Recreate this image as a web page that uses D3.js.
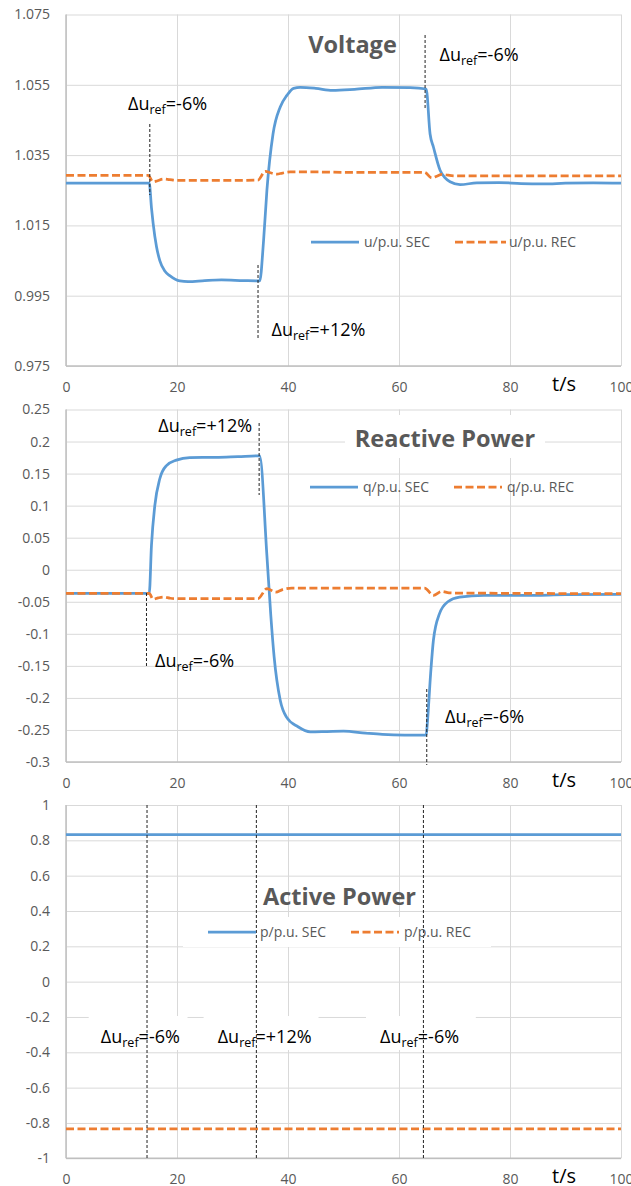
<!DOCTYPE html>
<html>
<head>
<meta charset="utf-8">
<script src="https://cdn.jsdelivr.net/npm/d3@7/dist/d3.min.js"></script>
<style>
body{margin:0;background:#fff;}
svg{display:block;font-family:"Open Sans",sans-serif;}
</style>
</head>
<body>
<div id="chart"></div>
<script>
// ---- data ----
var xTicks=[0,20,40,60,80,100];

var uTicks=[0.975,0.995,1.015,1.035,1.055,1.075];
var uTickLabels=["0.975","0.995","1.015","1.035","1.055","1.075"];
var qTicks=[-0.3,-0.25,-0.2,-0.15,-0.1,-0.05,0,0.05,0.1,0.15,0.2,0.25];
var qTickLabels=["-0.3","-0.25","-0.2","-0.15","-0.1","-0.05","0","0.05","0.1","0.15","0.2","0.25"];
var pTicks=[-1,-0.8,-0.6,-0.4,-0.2,0,0.2,0.4,0.6,0.8,1];
var pTickLabels=["-1","-0.8","-0.6","-0.4","-0.2","0","0.2","0.4","0.6","0.8","1"];

// voltage
var uSecT=[0,15,15.4,15.7,16.3,16.9,17.8,18.7,20.5,22,25,28,32,34.9,35.6,36.2,37.3,38.6,39.8,41,42.2,45,48,52,57,62,64.9,65.6,66.2,67.4,68.3,69.2,71,74,78,82,86,90,95,100];
var uSec =[1.027,1.027,1.020,1.0156,1.009,1.005,1.002,1.0007,0.9992,0.9990,0.9993,0.9995,0.9993,0.9992,1.0107,1.025,1.041,1.0487,1.052,1.054,1.0543,1.0540,1.0534,1.0537,1.0543,1.0542,1.0538,1.041,1.0373,1.0307,1.0285,1.0274,1.0266,1.0271,1.0272,1.0269,1.0268,1.0270,1.0271,1.0270];
var uRecT=[0,14.8,15.7,16.5,17.5,18.7,20,25,30,34.6,35.9,37,38,39,40.4,45,50,55,60,64.6,65.9,66.8,67.7,70,80,100];
var uRec =[1.0292,1.0292,1.0274,1.0277,1.0282,1.0280,1.0278,1.0278,1.0278,1.0279,1.0304,1.0299,1.0296,1.0299,1.0302,1.0302,1.0301,1.0301,1.0301,1.0301,1.0285,1.0290,1.0295,1.0291,1.0291,1.0291];

// reactive power
var qSecT=[0,15,15.4,16,16.9,18.1,19.9,22.3,27,31,34.9,36.2,36.9,37.5,38.6,39.7,41.8,44,47,50,54,57,61,64.9,65.1,65.7,66.2,67.3,68.8,70.9,75.3,82.5,90,100];
var qSec =[-0.037,-0.037,0.038,0.100,0.142,0.1625,0.171,0.175,0.1754,0.1765,0.1776,0.022,-0.071,-0.136,-0.2036,-0.2296,-0.245,-0.253,-0.2525,-0.2519,-0.255,-0.257,-0.258,-0.258,-0.240,-0.162,-0.110,-0.0685,-0.050,-0.0427,-0.040,-0.040,-0.039,-0.0385];
var qRecT=[0,15,15.7,16.6,17.6,18.8,20,25,30,34.6,36.2,37.8,39,40.7,45,50,55,60,64.6,66.2,67.7,69,70,80,90,100];
var qRec =[-0.037,-0.037,-0.046,-0.044,-0.0427,-0.0445,-0.045,-0.045,-0.045,-0.045,-0.0296,-0.035,-0.031,-0.0287,-0.0287,-0.0287,-0.0287,-0.0287,-0.0287,-0.040,-0.0338,-0.036,-0.0364,-0.0368,-0.0372,-0.0374];

// active power
var pSecT=[0,100];
var pSec =[0.833,0.833];
var pRecT=[0,100];
var pRec =[-0.833,-0.833];

// step instants marked in each panel
var uMarks=[15.1,34.6,64.7];
var qMarks=[14.5,34.8,65.0];
var pMarks=[14.6,34.3,64.4];
var markLabels=["-6%","+12%","-6%"];
var qMarkLabels=["-6%","+12%","-6%"];

// ---- drawing ----
var W=631,H=1186,L=66,R=621;
var blue="#5b9bd5",orange="#ed7d31";
var svg=d3.select("#chart").append("svg").attr("width",W).attr("height",H);

var x=d3.scaleLinear().domain([0,100]).range([L,R]);

function drawPanel(p){
  var y=d3.scaleLinear().domain([p.ticks[0],p.ticks[p.ticks.length-1]]).range([p.bottom,p.top]);
  var g=svg.append("g");

  var ya=g.append("g").attr("transform","translate("+L+",0)")
    .call(d3.axisLeft(y).tickValues(p.ticks).tickSize(-(R-L)).tickPadding(16)
      .tickFormat(function(d,i){return p.labels[i];}));
  ya.select(".domain").remove();
  ya.attr("font-size",14).attr("font-family","Open Sans, sans-serif");
  ya.selectAll("line").attr("stroke","#d9d9d9");
  ya.selectAll("text").attr("fill","#595959");

  var xa=g.append("g").attr("transform","translate(0,"+p.bottom+")")
    .call(d3.axisBottom(x).tickValues(xTicks).tickSize(-(p.bottom-p.top)).tickPadding(16)
      .tickFormat(d3.format("d")));
  xa.select(".domain").remove();
  xa.attr("font-size",14).attr("font-family","Open Sans, sans-serif");
  xa.selectAll("line").attr("stroke","#d9d9d9");
  xa.selectAll("text").attr("fill","#595959");

  // white boxes behind some texts
  p.boxes.forEach(function(b){
    g.append("rect").attr("x",b[0]).attr("y",b[1]).attr("width",b[2]-b[0]).attr("height",b[3]-b[1]).attr("fill","#fff");
  });

  // axis lines
  g.append("line").attr("x1",L).attr("x2",L).attr("y1",p.top).attr("y2",p.bottom).attr("stroke","#bfbfbf").attr("stroke-width",1.5);
  g.append("line").attr("x1",L).attr("x2",R).attr("y1",p.bottom).attr("y2",p.bottom).attr("stroke","#bfbfbf").attr("stroke-width",1.5);

  var line=d3.line().x(function(d){return x(d[0]);}).y(function(d){return y(d[1]);}).curve(d3.curveMonotoneX);
  g.append("path").datum(d3.zip(p.secT,p.sec)).attr("d",line)
    .attr("fill","none").attr("stroke",blue).attr("stroke-width",2.75).attr("stroke-linejoin","round");
  g.append("path").datum(d3.zip(p.recT,p.rec)).attr("d",line)
    .attr("fill","none").attr("stroke",orange).attr("stroke-width",2.75).attr("stroke-dasharray","8,3.5");

  // step markers
  p.marks.forEach(function(t,i){
    g.append("line").attr("x1",x(t)).attr("x2",x(t)).attr("y1",p.markY[i][0]).attr("y2",p.markY[i][1])
      .attr("stroke","#222").attr("stroke-width",1).attr("stroke-dasharray","3,2");
    var tx=g.append("text").attr("x",p.markText[i][0]).attr("y",p.markText[i][1])
      .attr("font-size",18).attr("fill","#000");
    tx.append("tspan").text("Δu");
    tx.append("tspan").attr("font-size",12.5).attr("dy",4).text("ref");
    tx.append("tspan").attr("dy",-4).text("="+p.markLabels[i]);
  });

  // title
  g.append("text").attr("x",p.title[1]).attr("y",p.title[2]).attr("text-anchor","middle")
    .attr("font-size",23.5).attr("font-weight","bold").attr("fill","#595959").text(p.title[0]);

  // legend
  var lg=p.legend;
  g.append("line").attr("x1",lg.x[0]).attr("x2",lg.x[1]).attr("y1",lg.y).attr("y2",lg.y)
    .attr("stroke",blue).attr("stroke-width",2.75);
  g.append("text").attr("x",lg.x[2]).attr("y",lg.y).attr("dy","0.35em").attr("font-size",14).attr("fill","#595959").text(p.names[0]);
  g.append("line").attr("x1",lg.x[3]).attr("x2",lg.x[4]).attr("y1",lg.y).attr("y2",lg.y)
    .attr("stroke",orange).attr("stroke-width",2.75).attr("stroke-dasharray","8,3.5");
  g.append("text").attr("x",lg.x[5]).attr("y",lg.y).attr("dy","0.35em").attr("font-size",14).attr("fill","#595959").text(p.names[1]);

  // t/s
  g.append("text").attr("x",564).attr("y",p.bottom+25).attr("text-anchor","middle")
    .attr("font-size",20).attr("fill","#000").text("t/s");
}

drawPanel({
  top:14.5,bottom:366,ticks:uTicks,labels:uTickLabels,
  secT:uSecT,sec:uSec,recT:uRecT,rec:uRec,
  names:["u/p.u. SEC","u/p.u. REC"],
  title:["Voltage",352.5,53],
  legend:{y:242,x:[311,359,364,455,506,509]},
  boxes:[],
  marks:uMarks,markLabels:markLabels,
  markY:[[124,195],[265,339],[35,108]],
  markText:[[128,110],[271.5,336],[439.5,60.5]]
});

drawPanel({
  top:409.5,bottom:762,ticks:qTicks,labels:qTickLabels,
  secT:qSecT,sec:qSec,recT:qRecT,rec:qRec,
  names:["q/p.u. SEC","q/p.u. REC"],
  title:["Reactive Power",445,446.5],
  legend:{y:487,x:[310,358,363,454,502,507]},
  boxes:[[345,415,545,458]],
  marks:[qMarks[1],qMarks[0],qMarks[2]],markLabels:[qMarkLabels[1],qMarkLabels[0],qMarkLabels[2]],
  markY:[[423,495],[593,668],[689,765]],
  markText:[[158.3,432],[155,666.5],[445,723]]
});

drawPanel({
  top:805,bottom:1158.3,ticks:pTicks,labels:pTickLabels,
  secT:pSecT,sec:pSec,recT:pRecT,rec:pRec,
  names:["p/p.u. SEC","p/p.u. REC"],
  title:["Active Power",339.5,905],
  legend:{y:932,x:[208,256,260,351,399,404]},
  boxes:[[183,917,491,947],[88.7,1016,187.5,1050],[203.6,1016,318.5,1050],[366,1016,475.8,1050]],
  marks:pMarks,markLabels:markLabels,
  markY:[[805,1158.3],[805,1158.3],[805,1158.3]],
  markText:[[100.8,1043.3],[217.7,1043.3],[380,1043.3]]
});
</script>
</body>
</html>
